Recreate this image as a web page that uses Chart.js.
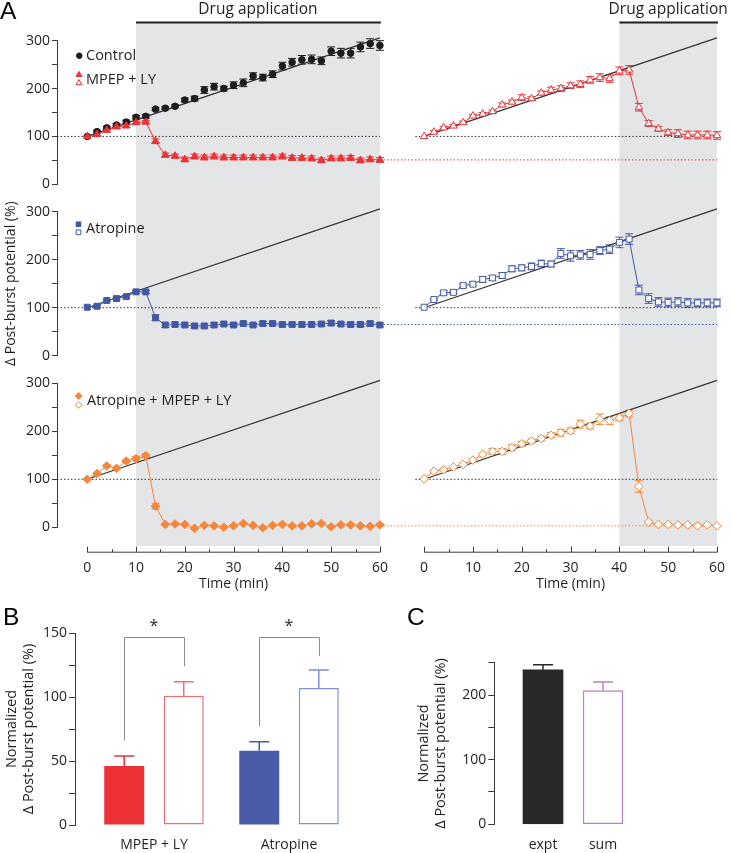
<!DOCTYPE html>
<html>
<head>
<meta charset="utf-8">
<script src="https://cdn.jsdelivr.net/npm/chart.js@4.4.1/dist/chart.umd.min.js"></script>
<style>
  html, body { margin: 0; padding: 0; background: #fff; }
  #fig { position: relative; width: 732px; height: 853px; overflow: hidden; background: #fff; }
  #fig canvas { position: absolute; }
  .panel-letter { position: absolute; font-family: "Liberation Sans", Arial, sans-serif; font-size: 24.5px; line-height: 1; color: #000; }
</style>
</head>
<body>
<div id="fig">
  <canvas id="row1"></canvas>
  <canvas id="row2"></canvas>
  <canvas id="row3"></canvas>
  <canvas id="panelB"></canvas>
  <canvas id="panelC"></canvas>
  <div class="panel-letter" style="left:0px;top:-1px">A</div>
  <div class="panel-letter" style="left:3px;top:605px">B</div>
  <div class="panel-letter" style="left:407px;top:605px">C</div>
</div>
<script>
// ---- data ----
var timeMin = [0,2,4,6,8,10,12,14,16,18,20,22,24,26,28,30,32,34,36,38,40,42,44,46,48,50,52,54,56,58,60];

// row 1: control and MPEP + LY
var controlPct = [100,110,118,124,130,140,142,157,159,163,176,179,197,204,200,207,212,226,223,230,247,255,260,261,258,278,274,274,287,294,290];
var controlSem = [0,3,3,3,4,4,4,3,3,3,4,5,7,7,5,7,8,7,7,7,8,8,9,9,8,9,10,10,10,10,10];
var mpepEarlyPct = [100,104,113,120,122,129,130,90,61,59,52,58,56,58,56,56,56,56,56,56,58,55,55,54,50,54,54,55,50,52,51];
var mpepEarlySem = [0,2,2,3,3,3,3,5,4,4,5,5,5,5,5,5,5,5,5,5,5,5,5,5,5,5,5,5,5,5,5];
var mpepLatePct = [100,109,118,122,129,143,147,152,166,172,181,179,191,197,200,206,209,218,223,221,237,239,161,127,116,108,106,103,103,103,102];
var mpepLateSem = [0,3,3,3,3,3,3,3,4,4,6,4,4,6,6,6,7,7,8,8,8,9,8,6,5,6,8,8,8,8,8];

// row 2: atropine
var atrEarlyPct = [101,103,115,119,123,133,133,79,64,65,64,62,62,64,66,64,67,64,67,67,65,65,65,65,66,68,66,65,65,67,64];
var atrEarlySem = [0,2,2,2,2,3,3,6,5,4,4,4,4,4,4,3,3,3,4,3,3,3,4,4,4,5,4,4,4,4,4];
var atrLatePct = [101,117,131,132,146,149,159,162,167,181,183,186,192,191,213,208,210,211,219,222,236,243,137,119,112,111,112,110,110,110,110];
var atrLateSem = [0,2,4,3,4,4,6,5,6,6,6,7,7,6,10,11,9,10,8,9,11,11,10,10,9,9,9,9,8,8,8];

// row 3: atropine + MPEP + LY
var allEarlyPct = [100,112,128,123,138,143,149,44,6,7,6,-2,4,3,0,3,8,4,-1,4,6,3,3,7,8,1,5,5,3,2,5];
var allEarlySem = [0,2,2,2,3,5,4,6,2,2,2,2,2,2,2,2,2,2,2,2,2,2,2,2,2,2,2,2,2,2,2];
var allLatePct = [101,117,120,126,131,140,152,158,158,166,174,180,185,192,197,201,215,211,225,222,228,237,85,11,6,6,5,5,3,5,3];
var allLateSem = [0,2,2,2,3,2,2,6,6,6,5,4,5,5,7,6,8,6,11,8,6,7,12,2,1,1,1,1,1,1,1];

var drugLevel = [51, 65, 3];          // dotted level of the early-drug plateau, per row
var fitX = [0, 60], fitY = [100, 306]; // control regression line
var baseLeftX = [-6.2, 60], baseRightX = [-1.8, 60], baseY = [100, 100];
var drugLeft = [10, 60], drugRight = [40, 60];
var timeTicks = [0,10,20,30,40,50,60];
var timeMinorTicks = [5,15,25,35,45,55];
var yTicksA = [0,100,200,300];

var rowLegends = [['Control', 'MPEP + LY'], ['Atropine'], ['Atropine + MPEP + LY']];
var drugTitle = 'Drug application';
var timeTitle = 'Time (min)';
var yTitleA = '\u0394 Post-burst potential (%)';

// panel B
var groupLabels = ['MPEP + LY', 'Atropine'];
var drugBar = [46, 58], drugBarSem = [8, 7];
var ctrlBar = [101, 107], ctrlBarSem = [11, 14];
var sigTop = [147, 147], sigDrugFoot = [66, 77], sigCtrlFoot = [124, 132], sigMark = ['*', '*'];
var yTitleB = ['Normalized', '\u0394 Post-burst potential (%)'];

// panel C
var cLabels = ['expt', 'sum'];
var cVals = [239, 207], cSem = [8, 13];

// ---- styling ----
var FONT = '"Open Sans", "Noto Sans", sans-serif';
var INK = '#231f20', AXIS = '#3a3a3a', SHADE = '#e4e5e7';
var BLACK = '#1d1d1d', RED = '#ec3237', RED_LIGHT = '#ee6f74';
var BLUE = '#4258a6', BLUE_BAR = '#4a5ba7', BLUE_LIGHT = '#7e8fd2';
var ORANGE = '#f4873b', BAR_BLACK = '#282828', PURPLE = '#b783cf', BRACKET = '#8c8c8c';

function pts(xs, ys) { return xs.map(function (x, i) { return { x: x, y: ys[i] }; }); }

// error bars for any dataset carrying a `sem` array
var errorBars = {
  id: 'errorBars',
  beforeDatasetsDraw: function (chart) {
    var ctx = chart.ctx, ys = chart.scales.y;
    chart.data.datasets.forEach(function (ds, di) {
      if (!ds.sem) return;
      var meta = chart.getDatasetMeta(di);
      ctx.save();
      ctx.lineWidth = ds.errWidth || 1;
      meta.data.forEach(function (el, i) {
        var e = ds.sem[i];
        if (!e) return;
        var v = ds.data[i].y;
        var top = ys.getPixelForValue(v + e);
        var bot = ys.getPixelForValue(ds.errUpOnly ? v : v - e);
        var cw = ds.capHalf || 4;
        ctx.strokeStyle = Array.isArray(ds.errColor) ? ds.errColor[i] : ds.errColor;
        ctx.beginPath();
        ctx.moveTo(el.x, top); ctx.lineTo(el.x, bot);
        ctx.moveTo(el.x - cw, top); ctx.lineTo(el.x + cw, top);
        if (!ds.errUpOnly) { ctx.moveTo(el.x - cw, bot); ctx.lineTo(el.x + cw, bot); }
        ctx.stroke();
      });
      ctx.restore();
    });
  }
};

function markerSet(ys, sem, axis, style, radius, color, filled, showLine, order) {
  return {
    data: pts(timeMin, ys), xAxisID: axis, yAxisID: 'y',
    sem: sem, errColor: color, capHalf: 4,
    showLine: showLine, borderColor: color, borderWidth: 1, tension: 0,
    pointStyle: style, pointRadius: radius, pointBorderWidth: 1,
    pointBackgroundColor: filled ? color : '#ffffff', pointBorderColor: color,
    clip: false, order: order
  };
}
function refSet(xs, ys, axis, color, dash, width, order) {
  return {
    data: pts(xs, ys), xAxisID: axis, yAxisID: 'y',
    borderColor: color, borderWidth: width, borderDash: dash,
    pointRadius: 0, fill: false, clip: false, order: order
  };
}

function drawMark(ctx, m, color) {
  ctx.fillStyle = m.filled ? color : '#ffffff';
  ctx.strokeStyle = color;
  ctx.lineWidth = 1;
  Chart.helpers.drawPoint(ctx, { pointStyle: m.style, radius: m.r, borderWidth: 1, rotation: 0 }, m.x, m.y);
}

function makeDecor(def) {
  return {
    id: 'decor',
    beforeDraw: function (chart) {
      var ctx = chart.ctx, xs = chart.scales.x, x2 = chart.scales.x2;
      var b0 = def.band[0] - def.top, b1 = def.band[1] - def.top;
      ctx.save();
      ctx.fillStyle = SHADE;
      var a = xs.getPixelForValue(drugLeft[0]), b = xs.getPixelForValue(drugLeft[1]);
      ctx.fillRect(a, b0, b - a, b1 - b0);
      a = x2.getPixelForValue(drugRight[0]); b = x2.getPixelForValue(drugRight[1]);
      ctx.fillRect(a, b0, b - a, b1 - b0);
      ctx.restore();
    },
    beforeDatasetsDraw: function (chart) {
      var ctx = chart.ctx;
      var y = chart.scales.y.getPixelForValue(def.level);
      ctx.save();
      ctx.strokeStyle = def.color;
      ctx.lineWidth = 1;
      ctx.setLineDash([1.5, 2]);
      ctx.beginPath();
      ctx.moveTo(chart.scales.x.getPixelForValue(drugLeft[1]), y);
      ctx.lineTo(chart.scales.x2.getPixelForValue(drugRight[1]), y);
      ctx.stroke();
      ctx.restore();
    },
    afterDraw: function (chart) {
      var ctx = chart.ctx, xs = chart.scales.x, x2 = chart.scales.x2;
      ctx.save();
      // legend
      def.legend.forEach(function (it) {
        it.marks.forEach(function (m) {
          drawMark(ctx, { style: m.style, r: m.r, filled: m.filled, x: m.x, y: m.y - def.top }, it.color);
        });
        ctx.fillStyle = INK;
        ctx.font = '14.5px ' + FONT;
        ctx.textAlign = 'left';
        ctx.textBaseline = 'middle';
        ctx.fillText(it.text, it.tx, it.ty - def.top);
      });
      // drug application bars
      if (def.drugBars) {
        [[xs, drugLeft], [x2, drugRight]].forEach(function (p) {
          var a = p[0].getPixelForValue(p[1][0]), b = p[0].getPixelForValue(p[1][1]);
          ctx.strokeStyle = INK;
          ctx.lineWidth = 2;
          ctx.beginPath(); ctx.moveTo(a, 22.5); ctx.lineTo(b + 1, 22.5); ctx.stroke();
          ctx.fillStyle = INK;
          ctx.font = '15.5px ' + FONT;
          ctx.textAlign = 'center';
          ctx.textBaseline = 'alphabetic';
          ctx.fillText(drugTitle, (a + b) / 2, 13.5);
        });
      }
      // time axes
      if (def.timeAxis) {
        var yl = def.timeAxis - def.top;
        [xs, x2].forEach(function (sc) {
          var a = sc.getPixelForValue(timeTicks[0]), b = sc.getPixelForValue(timeTicks[timeTicks.length - 1]);
          ctx.strokeStyle = AXIS;
          ctx.lineWidth = 1;
          ctx.beginPath();
          ctx.moveTo(a, yl + 0.5); ctx.lineTo(b + 0.5, yl + 0.5);
          timeTicks.forEach(function (t) {
            var p = Math.round(sc.getPixelForValue(t)) + 0.5;
            ctx.moveTo(p, yl + 0.5); ctx.lineTo(p, yl - 5);
          });
          timeMinorTicks.forEach(function (t) {
            var p = Math.round(sc.getPixelForValue(t)) + 0.5;
            ctx.moveTo(p, yl + 0.5); ctx.lineTo(p, yl - 2.5);
          });
          ctx.stroke();
          ctx.fillStyle = INK;
          ctx.font = '14px ' + FONT;
          ctx.textAlign = 'center';
          ctx.textBaseline = 'middle';
          timeTicks.forEach(function (t) { ctx.fillText(String(t), sc.getPixelForValue(t), yl + 16.5); });
          ctx.fillText(timeTitle, (a + b) / 2, yl + 32.5);
        });
      }
      ctx.restore();
    }
  };
}

var rows = [
  {
    id: 'row1', top: 0, height: 200, chartTop: 40.7, chartBottom: 184.3, band: [22.5, 185],
    level: drugLevel[0], color: RED, drugBars: true,
    sets: [
      markerSet(controlPct, controlSem, 'x', 'circle', 3.3, BLACK, true, false, 3),
      markerSet(mpepEarlyPct, mpepEarlySem, 'x', 'triangle', 4.3, RED, true, true, 1),
      markerSet(mpepLatePct, mpepLateSem, 'x2', 'triangle', 4.3, RED, false, true, 1)
    ],
    legend: [
      { text: rowLegends[0][0], tx: 86, ty: 56, color: BLACK, marks: [{ style: 'circle', r: 2.8, filled: true, x: 79.3, y: 55.7 }] },
      { text: rowLegends[0][1], tx: 86, ty: 79.5, color: RED, marks: [
        { style: 'triangle', r: 3.4, filled: true, x: 79, y: 74.8 },
        { style: 'triangle', r: 3.4, filled: false, x: 79, y: 83 }] }
    ]
  },
  {
    id: 'row2', top: 185, height: 205, chartTop: 211.7, chartBottom: 355.7, band: [185, 362],
    level: drugLevel[1], color: BLUE, yTitle: true,
    sets: [
      markerSet(atrEarlyPct, atrEarlySem, 'x', 'rect', 4.2, BLUE, true, true, 1),
      markerSet(atrLatePct, atrLateSem, 'x2', 'rect', 4.2, BLUE, false, true, 1)
    ],
    legend: [
      { text: rowLegends[1][0], tx: 86, ty: 229.3, color: BLUE, marks: [
        { style: 'rect', r: 3.3, filled: true, x: 78.5, y: 224.3 },
        { style: 'rect', r: 3.3, filled: false, x: 78.5, y: 232.3 }] }
    ]
  },
  {
    id: 'row3', top: 362, height: 238, chartTop: 383.3, chartBottom: 527.3, band: [362, 546],
    level: drugLevel[2], color: ORANGE, timeAxis: 551.7,
    sets: [
      markerSet(allEarlyPct, allEarlySem, 'x', 'rectRot', 4.3, ORANGE, true, true, 1),
      markerSet(allLatePct, allLateSem, 'x2', 'rectRot', 4.3, ORANGE, false, true, 1)
    ],
    legend: [
      { text: rowLegends[2][0], tx: 87, ty: 401, color: ORANGE, marks: [
        { style: 'rectRot', r: 3.4, filled: true, x: 78.7, y: 396 },
        { style: 'rectRot', r: 3.4, filled: false, x: 78.7, y: 405 }] }
    ]
  }
];

rows.forEach(function (def) {
  var cv = document.getElementById(def.id);
  cv.width = 732; cv.height = def.height;
  cv.style.left = '0px'; cv.style.top = def.top + 'px';
  var sets = def.sets.concat([
    refSet(fitX, fitY, 'x', '#333333', [], 1.2, 6),
    refSet(fitX, fitY, 'x2', '#333333', [], 1.2, 6),
    refSet(baseLeftX, baseY, 'x', '#333333', [1.5, 2], 1, 7),
    refSet(baseRightX, baseY, 'x2', '#333333', [1.5, 2], 1, 7)
  ]);
  new Chart(cv, {
    type: 'line',
    data: { datasets: sets },
    options: {
      responsive: false, animation: false, devicePixelRatio: 1,
      layout: { padding: { top: def.chartTop - def.top, bottom: def.top + def.height - def.chartBottom, left: 0, right: 15 } },
      plugins: { legend: { display: false }, tooltip: { enabled: false } },
      scales: {
        x: { type: 'linear', display: false, min: -6.2, max: 129.1 },
        x2: { type: 'linear', display: false, min: -75.2, max: 60, position: 'bottom' },
        y: {
          min: 0, max: 300,
          afterFit: function (s) { s.width = 57; },
          ticks: {
            stepSize: 50, autoSkip: false, padding: 2, color: INK,
            font: { family: FONT, size: 14 },
            callback: function (v) { return yTicksA.indexOf(v) >= 0 ? String(v) : ''; }
          },
          grid: { drawOnChartArea: false, drawTicks: true, tickLength: 5, color: AXIS, lineWidth: 1 },
          border: { display: true, color: AXIS, width: 1 },
          title: { display: !!def.yTitle, text: yTitleA, color: INK, font: { family: FONT, size: 14 }, padding: { top: 3, bottom: 0 } }
        }
      }
    },
    plugins: [errorBars, makeDecor(def)]
  });
});

// ---- panel B ----
var groupIdx = groupLabels.map(function (_, i) { return i; });
var barFill = [RED, BLUE_BAR], barOpen = [RED_LIGHT, BLUE_LIGHT];

var bracketPlugin = {
  id: 'brackets',
  afterDraw: function (chart) {
    var ctx = chart.ctx, ys = chart.scales.y;
    var m0 = chart.getDatasetMeta(0), m1 = chart.getDatasetMeta(1);
    ctx.save();
    groupIdx.forEach(function (g) {
      var xa = m0.data[g].x, xb = m1.data[g].x;
      var yt = Math.round(ys.getPixelForValue(sigTop[g])) + 0.5;
      ctx.strokeStyle = BRACKET;
      ctx.lineWidth = 1;
      ctx.beginPath();
      ctx.moveTo(Math.round(xa) + 0.5, ys.getPixelForValue(sigDrugFoot[g]));
      ctx.lineTo(Math.round(xa) + 0.5, yt);
      ctx.lineTo(Math.round(xb) + 0.5, yt);
      ctx.lineTo(Math.round(xb) + 0.5, ys.getPixelForValue(sigCtrlFoot[g]));
      ctx.stroke();
      ctx.fillStyle = INK;
      ctx.font = '16px ' + FONT;
      ctx.textAlign = 'center';
      ctx.textBaseline = 'middle';
      ctx.fillText(sigMark[g], (xa + xb) / 2, yt - 11);
    });
    ctx.restore();
  }
};

(function () {
  var cv = document.getElementById('panelB');
  cv.width = 380; cv.height = 263;
  cv.style.left = '0px'; cv.style.top = '590px';
  new Chart(cv, {
    type: 'bar',
    data: {
      datasets: [
        { data: pts(groupIdx, drugBar), backgroundColor: barFill, borderColor: barFill, borderWidth: 0,
          sem: drugBarSem, errColor: barFill, errUpOnly: true, capHalf: 10, errWidth: 1.5 },
        { data: pts(groupIdx, ctrlBar), backgroundColor: '#ffffff', borderColor: barOpen, borderWidth: 1.5,
          sem: ctrlBarSem, errColor: barOpen, errUpOnly: true, capHalf: 10, errWidth: 1.5 }
      ]
    },
    options: {
      responsive: false, animation: false, devicePixelRatio: 1,
      datasets: { bar: { categoryPercentage: 0.8815, barPercentage: 0.672, borderSkipped: false } },
      layout: { padding: { top: 43, left: 0, right: 0, bottom: 0 } },
      plugins: { legend: { display: false }, tooltip: { enabled: false } },
      scales: {
        x: {
          type: 'linear', min: -0.585, max: 1.674, offset: false,
          afterBuildTicks: function (s) { s.ticks = groupIdx.map(function (v) { return { value: v }; }); },
          afterFit: function (s) { s.height = 28; },
          grid: { display: false, drawTicks: false, offset: false },
          border: { display: false },
          ticks: { padding: 12, color: INK, font: { family: FONT, size: 14 }, callback: function (v) { return groupLabels[v]; } }
        },
        y: {
          min: 0, max: 150,
          afterFit: function (s) { s.width = 75; },
          ticks: { stepSize: 25, autoSkip: false, padding: 2, color: INK, font: { family: FONT, size: 14 },
            callback: function (v) { return v % 50 === 0 ? String(v) : ''; } },
          grid: { drawOnChartArea: false, drawTicks: true, tickLength: 6, color: AXIS },
          border: { display: true, color: AXIS, width: 1 },
          title: { display: true, text: yTitleB, color: INK, font: { family: FONT, size: 14.5 }, padding: { top: 3, bottom: 0 } }
        }
      }
    },
    plugins: [errorBars, bracketPlugin]
  });
})();

// ---- panel C ----
(function () {
  var cv = document.getElementById('panelC');
  cv.width = 352; cv.height = 263;
  cv.style.left = '380px'; cv.style.top = '590px';
  var cIdx = cLabels.map(function (_, i) { return i; });
  var cFill = [BAR_BLACK, '#ffffff'], cEdge = [BAR_BLACK, PURPLE];
  new Chart(cv, {
    type: 'bar',
    data: {
      datasets: [
        { data: pts(cIdx, cVals), backgroundColor: cFill, borderColor: cEdge, borderWidth: [0, 1.5],
          barThickness: 40, borderSkipped: false,
          sem: cSem, errColor: cEdge, errUpOnly: true, capHalf: 10, errWidth: 1.5 }
      ]
    },
    options: {
      responsive: false, animation: false, devicePixelRatio: 1,
      layout: { padding: { top: 72.7, left: 0, right: 0, bottom: 0 } },
      plugins: { legend: { display: false }, tooltip: { enabled: false } },
      scales: {
        x: {
          type: 'linear', min: -0.812, max: 3.15, offset: false,
          afterBuildTicks: function (s) { s.ticks = cIdx.map(function (v) { return { value: v }; }); },
          afterFit: function (s) { s.height = 28.7; },
          grid: { display: false, drawTicks: false, offset: false },
          border: { display: false },
          ticks: { padding: 12, color: INK, font: { family: FONT, size: 14 }, callback: function (v) { return cLabels[v]; } }
        },
        y: {
          min: 0, max: 250,
          afterFit: function (s) { s.width = 114.3; },
          ticks: { stepSize: 50, autoSkip: false, padding: 2, color: INK, font: { family: FONT, size: 14 },
            callback: function (v) { return v % 100 === 0 ? String(v) : ''; } },
          grid: { drawOnChartArea: false, drawTicks: true, tickLength: 6, color: AXIS },
          border: { display: true, color: AXIS, width: 1 },
          title: { display: true, text: yTitleB, color: INK, font: { family: FONT, size: 14.5 }, padding: { top: 35, bottom: 0 } }
        }
      }
    },
    plugins: [errorBars]
  });
})();
</script>
</body>
</html>
